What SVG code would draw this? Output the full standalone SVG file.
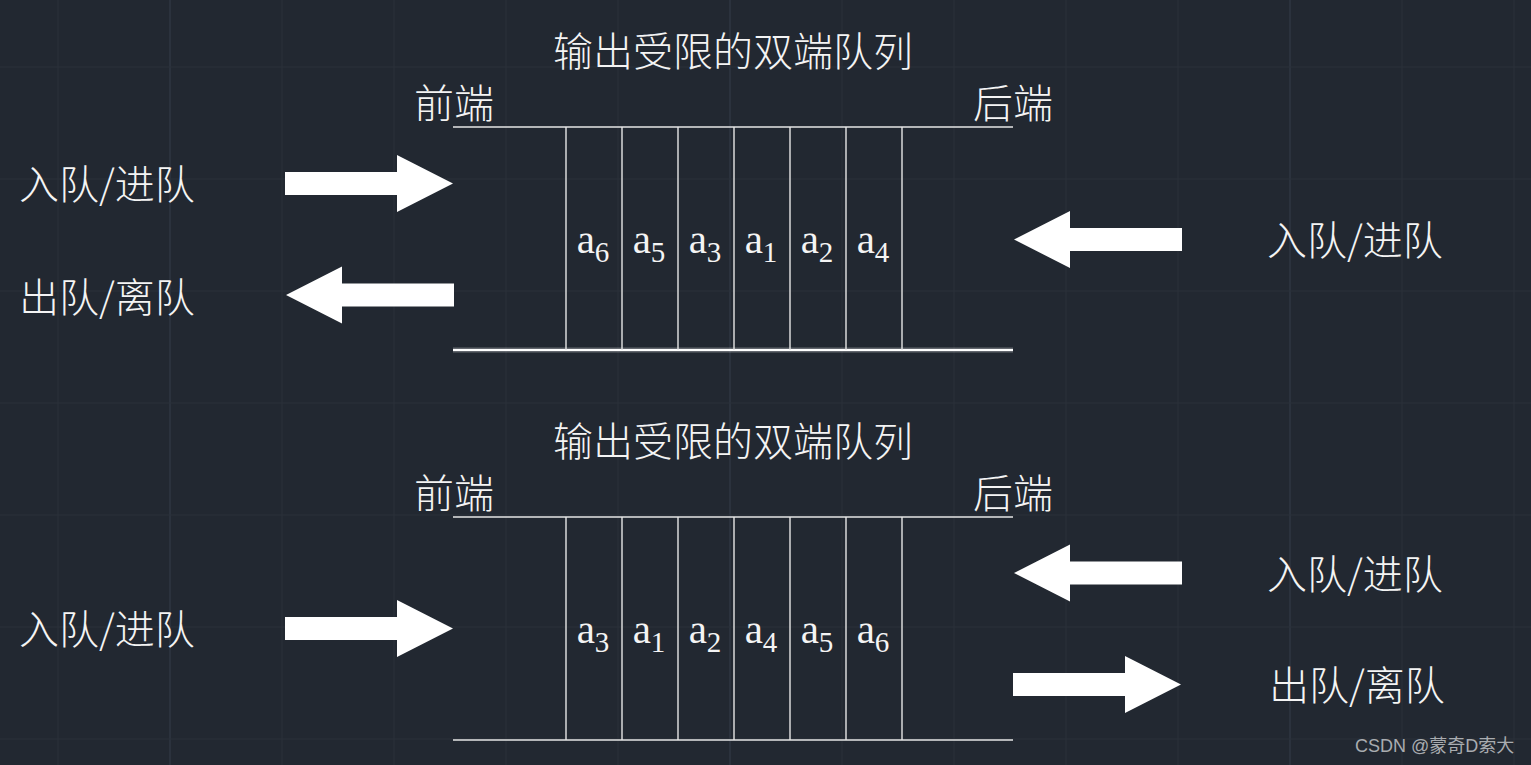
<svg xmlns="http://www.w3.org/2000/svg" width="1531" height="765" viewBox="0 0 1531 765">
<defs>
<style>
.grid{stroke:#2a313b;stroke-width:1}
.major{stroke:#333a46;stroke-width:1.2}
.ln{stroke:#e6e6e6;stroke-width:1.4;fill:none}
.cjk{font-family:"Noto Sans CJK SC","Liberation Sans",sans-serif;font-size:40px;font-weight:300;fill:#f4f4f4}
.a{font-family:"Liberation Serif","DejaVu Serif",serif;font-size:41px;fill:#f4f4f4;text-anchor:middle}
.sub{font-size:29px}
.arr{fill:#ffffff}
.wm{font-family:"Liberation Sans","Noto Sans CJK SC",sans-serif;font-size:18px;fill:#a9acb0}
</style>
<polygon id="arrowR" points="0,-11.5 112,-11.5 112,-28.5 168,0 112,28.5 112,11.5 0,11.5"/>
</defs>
<rect width="1531" height="765" fill="#222831"/>
<g id="grid">
<path class="grid" d="M58,0V765M282,0V765M394,0V765M506,0V765M618,0V765M842,0V765M954,0V765M1066,0V765M1178,0V765M1402,0V765M1514,0V765"/>
<path class="major" d="M170,0V765M730,0V765M1290,0V765"/>
<path class="grid" d="M0,67H1531M0,179H1531M0,291H1531M0,403H1531M0,515H1531M0,627H1531M0,739H1531"/>
</g>

<g id="queue-top">
<text class="cjk" x="733" y="66" text-anchor="middle">输出受限的双端队列</text>
<text class="cjk" x="414" y="118">前端</text>
<text class="cjk" x="973" y="118">后端</text>
<line class="ln" x1="453" y1="127" x2="1013" y2="127"/>
<line x1="453" y1="350" x2="1013" y2="350" stroke="#ffffff" stroke-opacity="0.3" stroke-width="5"/>
<line x1="453" y1="350" x2="1013" y2="350" stroke="#ffffff" stroke-width="2"/>
<path class="ln" d="M566,127V350M622,127V350M678,127V350M734,127V350M790,127V350M846,127V350M902,127V350"/>
<text class="a" x="593" y="253">a<tspan class="sub" dy="9">6</tspan></text>
<text class="a" x="649" y="253">a<tspan class="sub" dy="9">5</tspan></text>
<text class="a" x="705" y="253">a<tspan class="sub" dy="9">3</tspan></text>
<text class="a" x="761" y="253">a<tspan class="sub" dy="9">1</tspan></text>
<text class="a" x="817" y="253">a<tspan class="sub" dy="9">2</tspan></text>
<text class="a" x="873" y="253">a<tspan class="sub" dy="9">4</tspan></text>
</g>

<g id="labels-top">
<text class="cjk" x="19" y="199">入队/进队</text>
<text class="cjk" x="19" y="312">出队/离队</text>
<text class="cjk" x="1267" y="255">入队/进队</text>
</g>

<g id="queue-bottom">
<text class="cjk" x="733" y="456" text-anchor="middle">输出受限的双端队列</text>
<text class="cjk" x="414" y="508">前端</text>
<text class="cjk" x="973" y="508">后端</text>
<line class="ln" x1="453" y1="517" x2="1013" y2="517"/>
<line class="ln" x1="453" y1="740" x2="1013" y2="740"/>
<path class="ln" d="M566,517V740M622,517V740M678,517V740M734,517V740M790,517V740M846,517V740M902,517V740"/>
<text class="a" x="593" y="643">a<tspan class="sub" dy="9">3</tspan></text>
<text class="a" x="649" y="643">a<tspan class="sub" dy="9">1</tspan></text>
<text class="a" x="705" y="643">a<tspan class="sub" dy="9">2</tspan></text>
<text class="a" x="761" y="643">a<tspan class="sub" dy="9">4</tspan></text>
<text class="a" x="817" y="643">a<tspan class="sub" dy="9">5</tspan></text>
<text class="a" x="873" y="643">a<tspan class="sub" dy="9">6</tspan></text>
</g>

<g id="labels-bottom">
<text class="cjk" x="19" y="644">入队/进队</text>
<text class="cjk" x="1267" y="589">入队/进队</text>
<text class="cjk" x="1269" y="700">出队/离队</text>
</g>

<g id="connectors">
<use href="#arrowR" class="arr" transform="translate(285,183.5)"/>
<use href="#arrowR" class="arr" transform="translate(454,295) scale(-1,1)"/>
<use href="#arrowR" class="arr" transform="translate(1182,239.5) scale(-1,1)"/>
<use href="#arrowR" class="arr" transform="translate(285,628.5)"/>
<use href="#arrowR" class="arr" transform="translate(1182,573) scale(-1,1)"/>
<use href="#arrowR" class="arr" transform="translate(1013,684.5)"/>
</g>

<text class="wm" x="1355" y="752">CSDN @蒙奇D索大</text>
</svg>
